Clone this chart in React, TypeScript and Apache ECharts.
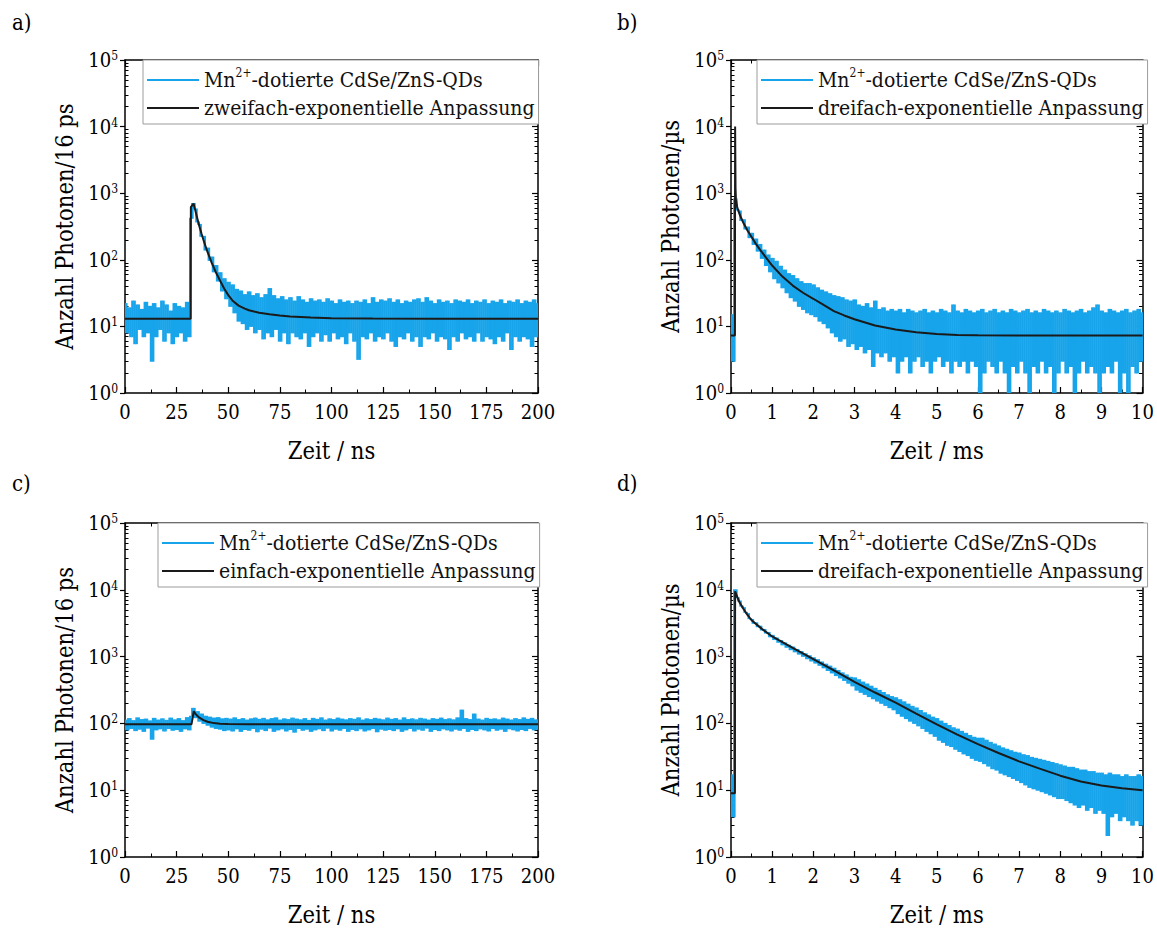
import React, { useEffect, useRef } from 'react';
import * as echarts from 'echarts';

const SERIF = 'DejaVu Serif Condensed, DejaVu Serif, serif';
const BLUE = '#17a4ea';
const BLACK = '#1a1a1a';

const dataName = 'Mn2+-dotierte CdSe/ZnS-QDs';
const fitNames = [
  'zweifach-exponentielle Anpassung',
  'dreifach-exponentielle Anpassung',
  'einfach-exponentielle Anpassung',
  'dreifach-exponentielle Anpassung',
];
const panelLabels = ['a)', 'b)', 'c)', 'd)'];
const xTitles = ['Zeit / ns', 'Zeit / ms', 'Zeit / ns', 'Zeit / ms'];
const yTitles = ['Anzahl Photonen/16 ps', 'Anzahl Photonen/\u00b5s', 'Anzahl Photonen/16 ps', 'Anzahl Photonen/\u00b5s'];
const xMaxima = [200, 10, 200, 10];
const xIntervals = [25, 1, 25, 1];
// time step of the plotted traces (ns for a/c, ms for b/d)
const traceSteps = [1, 0.05, 1, 0.05];
const yMin = 1;
const yMax = 100000;

// a) measured counts, t = 0 .. 200 ns
const aCounts = [
  22, 8, 19, 7, 24, 5.5, 21, 9, 18, 7, 23, 8, 20, 3, 22, 7, 19, 9, 24, 6, 21, 8, 17, 5.5, 22, 7, 20, 8, 19, 6, 23, 7,
  420, 700, 580, 370, 340, 225, 225, 140, 150, 98, 110, 66, 82, 48, 64, 34, 52, 26, 46, 20, 42, 16, 36, 12, 34, 11,
  30, 9, 33, 10, 29, 8, 31, 9, 27, 6.5, 30, 8, 37, 7, 29, 9, 26, 6, 28, 8, 25, 5.5, 27, 8, 24, 7, 28, 6.5, 25, 8, 23, 5,
  26, 7, 24, 8, 25, 6, 23, 7.5, 26, 6,
  24, 8, 22, 6.5, 25, 7, 23, 5.5, 24, 8,
  22, 6, 24, 3.2, 23, 7, 25, 6.5, 22, 8,
  27, 6, 23, 7, 25, 6.5, 24, 8, 26, 6,
  23, 5, 25, 7, 22, 6.5, 24, 8, 23, 6,
  25, 7, 26, 5, 23, 7, 27, 6.5, 24, 8,
  22, 6, 25, 7, 23, 6.5, 24, 4.5, 22, 7,
  25, 6, 24, 8, 23, 6.5, 25, 7, 22, 6,
  24, 8, 23, 6, 25, 7, 22, 6.5, 24, 5.5,
  23, 7, 25, 6, 22, 8, 24, 4.5, 23, 7,
  25, 6, 22, 7, 24, 6.5, 23, 5, 25, 7,
  22,
];

// b) measured counts, t = 0 .. 10 ms
const bCounts = [
  15, 3, 820, 560, 540, 390, 400, 290, 310, 215,
  250, 170, 205, 135, 170, 105, 140, 82, 118, 66,
  105, 52, 95, 45, 80, 38, 70, 32, 62, 27,
  58, 24, 52, 20, 47, 18, 44, 16, 44, 15,
  42, 14, 38, 12, 35, 11, 33, 9.5, 31, 8,
  29, 7, 28, 6, 27, 6.5, 25, 5, 24, 5.5,
  25, 4.5, 21, 5, 20, 4, 22, 4.5, 19, 2.5,
  24, 4, 18, 3.5, 19, 4, 17, 3, 18, 3.5,
  17, 2, 18, 3, 16, 3.5, 18, 2, 17, 3,
  16, 3.5, 17, 2.5, 18, 3, 16, 2, 17, 3,
  16, 3.5, 18, 2.5, 17, 3, 16, 2, 21, 3,
  17, 2.5, 16, 3, 18, 2, 17, 3, 16, 2.5,
  17, 1, 18, 2, 16, 3, 17, 2.5, 18, 2,
  16, 3, 17, 2, 16, 1, 18, 2.5, 17, 2,
  16, 3, 17, 2, 18, 1, 16, 2.5, 17, 2,
  16, 3, 18, 2, 17, 2.5, 16, 1, 17, 2,
  16, 3, 18, 2, 17, 2.5, 16, 1, 17, 2,
  18, 3, 16, 2, 17, 2.5, 19, 2, 21, 1,
  17, 2, 16, 2.5, 18, 2, 17, 3, 16, 1,
  17, 2, 18, 1, 16, 2.5, 17, 2, 18, 3,
  16,
];

// c) measured counts, t = 0 .. 200 ns
const cCounts = [
  112, 80, 118, 84, 110, 78, 121, 82, 114, 76,
  116, 85, 109, 58, 119, 80, 112, 83, 117, 77,
  111, 84, 120, 79, 113, 81, 118, 76, 110, 83,
  122, 80,
  128, 168, 122, 150, 108, 138, 100, 128,
  94, 124, 88, 120, 84, 122, 82, 117, 78, 119,
  80, 116, 77, 121, 83, 114, 76, 118, 81, 112,
  79, 117, 84, 120, 75, 115, 82, 119, 78, 113,
  85, 118, 76, 121, 80, 112, 83, 117, 77, 114,
  81, 120, 74, 116, 84, 113, 79, 118, 82, 111,
  76, 119, 80, 115, 83, 121, 78, 112, 85, 117,
  77, 114, 82, 120, 79, 116, 84, 113, 76, 118,
  81, 115, 78, 121, 83, 112, 77, 117, 80, 114,
  84, 119, 75, 116, 82, 113, 79, 120, 81, 115,
  78, 118, 83, 112, 76, 121, 80, 114, 84, 117,
  77, 113, 82, 119, 79, 116, 85, 112, 76, 118,
  81, 115, 78, 120, 83, 114, 80, 117, 77, 113,
  82, 121, 79, 158, 84, 118, 76, 114, 81, 138,
  78, 116, 83, 112, 80, 119, 77, 115, 84, 117,
  79, 113, 82, 120, 76, 116, 83, 112, 80, 118,
  77, 114, 81, 121, 78, 115, 84, 119, 80, 113,
  82,
];

// d) measured counts, t = 0 .. 10 ms
const dCounts = [
  17, 4, 10000, 7600, 6800, 5700, 5400, 4600, 4400, 3700,
  3600, 3150, 3200, 2800, 2850, 2500, 2550, 2250, 2300, 1980,
  2080, 1800, 1900, 1640, 1740, 1500, 1600, 1380, 1480, 1270,
  1390, 1180, 1280, 1090, 1190, 1010, 1100, 930, 1030, 860,
  960, 800, 900, 740, 830, 680, 770, 620, 720, 570,
  670, 520, 620, 480, 570, 440, 530, 400, 490, 365,
  480, 315, 450, 292, 415, 272, 388, 252, 360, 234,
  335, 216, 312, 200, 290, 186, 268, 172, 252, 160,
  242, 140, 226, 128, 210, 118, 194, 108, 180, 100,
  170, 92, 156, 84, 144, 76, 134, 70, 124, 64,
  118, 56, 108, 52, 100, 47, 93, 45, 86, 41,
  82, 38, 76, 35, 71, 33, 66, 30, 62, 28,
  60, 27, 60, 25, 56, 23, 52, 21, 49, 20,
  46, 18, 43, 17, 41, 16, 39, 15, 37, 14,
  36, 13, 34, 12, 33, 11, 31, 10.5, 30, 10,
  29, 9.5, 28, 9, 27, 8.5, 26, 8, 25, 7.5,
  24, 7.5, 23, 7, 22, 6.5, 22, 6, 21, 5.5,
  20, 6, 20, 5, 19, 5.5, 19, 4.5, 18, 5,
  18, 4.5, 17, 2.1, 18, 4, 17, 4.5, 17, 3.5,
  16, 4, 17, 3.5, 16, 3, 16, 3.5, 17, 3,
  16,
];

// fitted curves [time, counts]
const aFit = [
  [0, 13], [31.8, 13], [31.9, 620], [33.2, 700], [34, 560], [35, 420], [36, 320], [37, 250], [38, 198], [39, 160],
  [40, 130], [42, 90], [44, 65], [46, 49], [48, 37], [50, 29.5], [52, 24.5], [55, 20.5], [58, 18.5], [60, 17.5],
  [65, 16], [70, 15.2], [75, 14.6], [80, 14.1], [90, 13.6], [100, 13.3], [120, 13.1], [150, 13], [200, 13],
];
const bFit = [
  [0, 7.3], [0.095, 7.3], [0.1, 10000], [0.11, 1200], [0.12, 800], [0.15, 620], [0.2, 500], [0.25, 420], [0.3, 360],
  [0.4, 275], [0.5, 220], [0.6, 175], [0.75, 130], [1, 82], [1.25, 56], [1.5, 41], [1.75, 32], [2, 26], [2.25, 21],
  [2.5, 17], [2.75, 14.6], [3, 12.8], [3.5, 10.3], [4, 9], [4.5, 8.2], [5, 7.7], [5.5, 7.45], [6, 7.35], [7, 7.3],
  [10, 7.3],
];
const cFit = [
  [0, 97], [32.2, 97], [33.3, 152], [34, 140], [35, 130], [36, 122], [38, 112], [40, 106], [43, 101], [46, 99],
  [50, 97.8], [60, 97.2], [200, 97],
];
const dFit = [
  [0, 9], [0.095, 9], [0.1, 9500], [0.15, 7900], [0.2, 6600], [0.3, 5200], [0.4, 4200], [0.5, 3500], [0.75, 2600],
  [1, 2000], [1.5, 1350], [2, 920], [2.5, 620], [3, 420], [3.5, 290], [4, 205], [4.5, 140], [5, 97], [5.5, 68],
  [6, 49], [6.5, 36], [7, 27], [7.5, 21], [8, 16.5], [8.5, 13.5], [9, 11.8], [9.5, 10.7], [10, 10],
];

const countsList = [aCounts, bCounts, cCounts, dCounts];
const fitList = [aFit, bFit, cFit, dFit];

const TICK_FONT = 20;
const SUP_FONT = 12;
const LEGEND_FONT = 21;
const TITLE_FONT = 23.5;

function buildOption() {
  const grids = [
    { left: 125, top: 60, width: 413, height: 333 },
    { left: 731, top: 60, width: 412, height: 333 },
    { left: 125, top: 523, width: 413, height: 334 },
    { left: 731, top: 523, width: 412, height: 334 },
  ];
  const legendPos = [
    { left: 143, top: 60 },
    { left: 757, top: 60 },
    { left: 158, top: 523 },
    { left: 757, top: 523 },
  ];
  const labelPos = [
    { left: 12, top: 11 },
    { left: 617, top: 11 },
    { left: 12, top: 472 },
    { left: 617, top: 472 },
  ];

  const minorLog: number[] = [];
  for (let n = 0; n < 5; n++) {
    for (let k = 2; k <= 9; k++) minorLog.push(n + Math.log10(k));
  }

  const axisLineStyle = { color: '#000', width: 1.5 };
  const tickStyle = { color: '#000', width: 1.2 };
  const supRich = {
    sup: { fontFamily: SERIF, fontSize: SUP_FONT, color: '#000', verticalAlign: 'top' as const },
  };

  const xAxis: any[] = [];
  const yAxis: any[] = [];
  const series: any[] = [];
  const legend: any[] = [];
  const graphic: any[] = [];

  for (let g = 0; g < 4; g++) {
    xAxis.push({
      gridIndex: g,
      type: 'value',
      position: 'bottom',
      min: 0,
      max: xMaxima[g],
      interval: xIntervals[g],
      axisLine: { show: true, onZero: false, lineStyle: axisLineStyle },
      axisTick: { show: true, inside: true, length: 6, lineStyle: tickStyle },
      minorTick: { show: true, splitNumber: 2, length: 3.5, lineStyle: { color: '#000', width: 1 } },
      splitLine: { show: false },
      axisLabel: {
        show: true,
        fontFamily: SERIF,
        fontSize: TICK_FONT,
        color: '#000',
        margin: 9,
        showMinLabel: true,
        showMaxLabel: true,
      },
      name: xTitles[g],
      nameLocation: 'middle',
      nameGap: 46,
      nameTextStyle: { fontFamily: SERIF, fontSize: TITLE_FONT, color: '#000' },
    });
    xAxis.push({
      gridIndex: g,
      type: 'value',
      position: 'top',
      min: 0,
      max: xMaxima[g],
      interval: xIntervals[g],
      axisLine: { show: true, onZero: false, lineStyle: axisLineStyle },
      axisTick: { show: true, inside: true, length: 6, lineStyle: tickStyle },
      minorTick: { show: true, splitNumber: 2, length: 3.5, lineStyle: { color: '#000', width: 1 } },
      splitLine: { show: false },
      axisLabel: { show: false },
    });

    yAxis.push({
      gridIndex: g,
      type: 'log',
      logBase: 10,
      position: 'left',
      min: yMin,
      max: yMax,
      axisLine: { show: true, onZero: false, lineStyle: axisLineStyle },
      axisTick: { show: true, inside: false, length: 5, lineStyle: tickStyle },
      splitLine: { show: false },
      axisLabel: {
        show: true,
        fontFamily: SERIF,
        fontSize: TICK_FONT,
        color: '#000',
        margin: 7,
        formatter: (v: number) => `10{sup|${Math.round(Math.log10(v))}}`,
        rich: supRich,
      },
      name: yTitles[g],
      nameLocation: 'middle',
      nameGap: 48,
      nameRotate: 90,
      nameTextStyle: { fontFamily: SERIF, fontSize: TITLE_FONT, color: '#000' },
    });
    yAxis.push({
      gridIndex: g,
      type: 'value',
      position: 'left',
      min: 0,
      max: 5,
      axisLine: { show: false, onZero: false },
      axisTick: { show: true, inside: true, length: 3.5, lineStyle: { color: '#000', width: 1 }, customValues: minorLog },
      splitLine: { show: false },
      axisLabel: { show: false },
    });
    yAxis.push({
      gridIndex: g,
      type: 'log',
      logBase: 10,
      position: 'right',
      min: yMin,
      max: yMax,
      axisLine: { show: true, onZero: false, lineStyle: axisLineStyle },
      axisTick: { show: true, inside: true, length: 6, lineStyle: tickStyle },
      splitLine: { show: false },
      axisLabel: { show: false },
    });
    yAxis.push({
      gridIndex: g,
      type: 'value',
      position: 'right',
      min: 0,
      max: 5,
      axisLine: { show: false, onZero: false },
      axisTick: { show: true, inside: true, length: 3.5, lineStyle: { color: '#000', width: 1 }, customValues: minorLog },
      splitLine: { show: false },
      axisLabel: { show: false },
    });

    // measured trace: each segment between consecutive samples is filled as its own span
    const step = traceSteps[g];
    const counts = countsList[g];
    const segs: number[][] = [];
    for (let k = 0; k < counts.length - 1; k++) {
      segs.push([Number((k * step).toFixed(3)), counts[k], Number(((k + 1) * step).toFixed(3)), counts[k + 1]]);
    }
    series.push({
      type: 'custom',
      name: dataName,
      xAxisIndex: 2 * g,
      yAxisIndex: 4 * g,
      data: segs,
      encode: { x: [0, 2], y: [1, 3] },
      color: BLUE,
      itemStyle: { color: BLUE },
      silent: true,
      clip: true,
      z: 2,
      renderItem: (params: any, api: any) => {
        const p0 = api.coord([api.value(0), api.value(1)]);
        const p1 = api.coord([api.value(2), api.value(3)]);
        const top = Math.min(p0[1], p1[1]);
        const bottom = Math.max(p0[1], p1[1]);
        return {
          type: 'rect',
          shape: { x: p0[0], y: top - 0.5, width: p1[0] - p0[0] + 0.5, height: bottom - top + 1 },
          style: { fill: BLUE },
        };
      },
    });
    series.push({
      type: 'line',
      name: fitNames[g],
      xAxisIndex: 2 * g,
      yAxisIndex: 4 * g,
      data: fitList[g],
      showSymbol: false,
      symbol: 'none',
      color: BLACK,
      lineStyle: { color: BLACK, width: 2 },
      silent: true,
      z: 3,
    });

    legend.push({
      ...legendPos[g],
      orient: 'vertical',
      data: [dataName, fitNames[g]],
      icon: 'rect',
      itemWidth: 52,
      itemHeight: 2,
      itemGap: 2,
      padding: [7, 4, 3, 4],
      backgroundColor: '#fff',
      borderColor: '#9c9c9c',
      borderWidth: 1,
      selectedMode: false,
      formatter: (name: string) => (name.startsWith('Mn2+') ? 'Mn{sup|2+}' + name.slice(4) : name),
      textStyle: {
        fontFamily: SERIF,
        fontSize: LEGEND_FONT,
        color: '#111',
        lineHeight: 26,
        rich: {
          sup: { fontFamily: SERIF, fontSize: SUP_FONT, color: '#111', verticalAlign: 'top' },
        },
      },
    });

    graphic.push({
      type: 'text',
      ...labelPos[g],
      style: { text: panelLabels[g], fontFamily: SERIF, fontSize: 22, fill: '#000' },
    });
  }

  return {
    animation: false,
    backgroundColor: '#fff',
    textStyle: { fontFamily: SERIF },
    grid: grids.map((p) => ({ ...p, show: false, containLabel: false })),
    xAxis,
    yAxis,
    legend,
    series,
    graphic,
  };
}

export default function App() {
  const ref = useRef<HTMLDivElement>(null);
  useEffect(() => {
    if (!ref.current) return;
    const chart = echarts.init(ref.current, null, { renderer: 'svg' });
    chart.setOption(buildOption() as any);
    return () => chart.dispose();
  }, []);
  return (
    <div
      ref={ref}
      style={{ position: 'absolute', left: 0, top: 0, width: 1157, height: 929, background: '#fff' }}
    />
  );
}
